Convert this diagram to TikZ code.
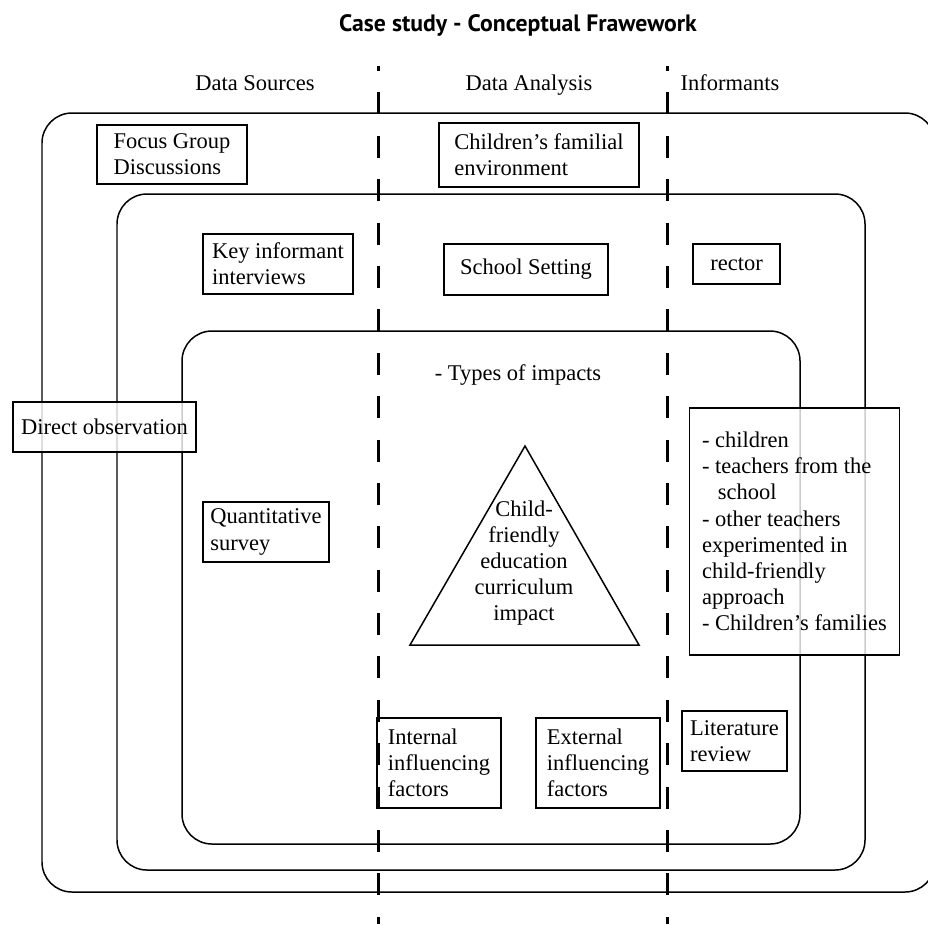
\documentclass[tikz,border=0pt]{standalone}
\usepackage{fontspec}
\setmainfont{Liberation Serif}
\newfontfamily\titlefont{PT Sans}
\usepackage{tikz}
\usetikzlibrary{positioning}

\begin{document}
\begin{tikzpicture}[x=0.02cm, y=-0.02cm,
    frame/.style={line width=0.85pt, rounded corners=0.6cm},
    divider/.style={line width=1.7pt, dash pattern=on 0.44cm off 0.428cm, dash phase=0.34cm},
    srcbox/.style={draw, line width=0.7pt, align=left, inner sep=3pt, font=\fontsize{12.8}{14.9}\selectfont},
    seethrough/.style={fill=white, fill opacity=0.8, text opacity=1},
    plaintext/.style={font=\fontsize{12.8}{14.9}\selectfont},
    colhead/.style={plaintext, anchor=base}]

    \useasboundingbox (0,0) rectangle (928,924);

    % =================================================================
    % 1. TITLE AND COLUMN HEADINGS
    % =================================================================
    \node[font=\titlefont\bfseries\fontsize{13.5}{16}\selectfont] (title) at (518,25) {Case study - Conceptual Frawework};
    \node[colhead] (hsrc) at (255,90) {Data Sources};
    \node[colhead] (hana) at (529,90) {Data Analysis};
    \node[colhead] (hinf) at (730,90) {Informants};

    % =================================================================
    % 2. NESTED FRAMES
    % =================================================================
    \draw[frame] (42,113) rectangle (935,892);
    \draw[frame] (117,194) rectangle (865,870);
    \draw[frame] (182,331) rectangle (800,844);

    % =================================================================
    % 3. BOXES OF THE OUTER FRAME
    % =================================================================
    \node[srcbox, minimum width=3.0cm, minimum height=1.18cm] (fgd) at (172,154.5) {Focus Group\\Discussions};
    \node[srcbox, minimum width=4.0cm, minimum height=1.28cm] (cfe) at (539,155) {Children's familial\\environment};
    \node[srcbox, seethrough, minimum width=3.66cm, minimum height=1.0cm] (dobs) at (104.5,427) {Direct observation};

    % =================================================================
    % 4. BOXES OF THE MIDDLE FRAME
    % =================================================================
    \node[srcbox, minimum width=3.0cm, minimum height=1.2cm] (kii) at (278,264) {Key informant\\interviews};
    \node[srcbox, minimum width=3.28cm, minimum height=1.02cm] (ss) at (526,269.5) {School Setting};
    \node[srcbox, minimum width=1.74cm, minimum height=0.8cm] (rector) at (736.5,264) {rector};
    \node[srcbox, seethrough, minimum width=4.2cm, minimum height=4.94cm] (inf) at (794.5,531.5)
        {- children\\- teachers from the\\\hspace*{0.7em}school\\- other teachers\\experimented in\\child-friendly\\approach\\- Children's families};

    % =================================================================
    % 5. INNER FRAME: IMPACTS
    % =================================================================
    \node[colhead] (types) at (518,380) {- Types of impacts};
    \draw[line width=0.85pt] (525,446) -- (410,645) -- (639,645) -- cycle;
    \node[plaintext, align=center] (cfimp) at (524,563) {Child-\\friendly\\education\\curriculum\\impact};

    \node[srcbox, minimum width=2.52cm, minimum height=1.2cm] (qs) at (266,532) {Quantitative\\survey};
    \node[srcbox, minimum width=2.48cm, minimum height=1.8cm] (iif) at (439,763) {Internal\\influencing\\factors};
    \node[srcbox, minimum width=2.48cm, minimum height=1.8cm] (eif) at (598,763) {External\\influencing\\factors};
    \node[srcbox, minimum width=2.1cm, minimum height=1.2cm] (lr) at (734.5,741) {Literature\\review};

    % =================================================================
    % 6. DASHED COLUMN DIVIDERS
    % =================================================================
    \draw[divider] (378,66) -- (378,924);
    \draw[divider] (667,66) -- (667,924);

\end{tikzpicture}
\end{document}
